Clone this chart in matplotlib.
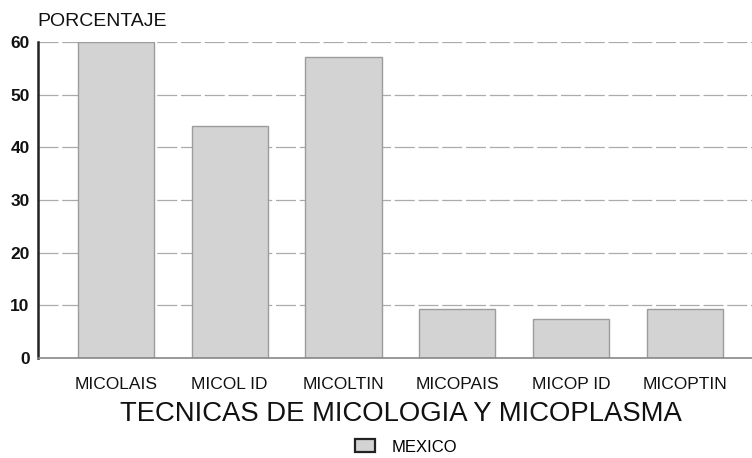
"""Tecnicas de micologia y micoplasma - Mexico"""
import matplotlib
matplotlib.use('Agg')
import matplotlib.pyplot as plt
import matplotlib.patches as mpatches

plt.rcParams['font.family'] = ['Liberation Sans Narrow', 'Liberation Sans', 'DejaVu Sans']

categories = ['MICOLAIS', 'MICOL ID', 'MICOLTIN', 'MICOPAIS', 'MICOP ID', 'MICOPTIN']
mexico = [60, 44, 57.2, 9.3, 7.4, 9.3]
yticks = [0, 10, 20, 30, 40, 50, 60]

fig = plt.figure(figsize=(7.52, 4.58), dpi=100, facecolor='white')
ax = fig.add_axes([0.0505, 0.2183, 0.9495, 0.69])

x = list(range(len(categories)))
ax.bar(x, mexico, width=0.67, color='#d3d3d3', edgecolor='#9c9c9c', linewidth=1.0, zorder=2)

ax.set_ylim(0, 60)
ax.set_xlim(-0.684, 5.59)
ax.set_yticks(yticks)
ax.set_yticklabels([str(v) for v in yticks], fontsize=12.5, fontweight='bold', color='#111')
ax.set_xticks(x)
ax.set_xticklabels(categories, fontsize=12.5, color='#111')
ax.tick_params(axis='y', length=0, pad=6)
ax.tick_params(axis='x', length=0, pad=14)

ax.yaxis.grid(True, color='#ababab', linewidth=0.9, linestyle=(0, (16, 3)), zorder=1)
for s in ['top', 'right']:
    ax.spines[s].set_visible(False)
ax.spines['left'].set_color('#222')
ax.spines['left'].set_linewidth(1.8)
ax.spines['bottom'].set_color('#888')
ax.spines['bottom'].set_linewidth(1.2)

ax.set_xlabel('TECNICAS DE MICOLOGIA Y MICOPLASMA', fontsize=19.8, color='#111')
ax.xaxis.set_label_coords(0.508, -0.135)
fig.text(0.05, 0.952, 'PORCENTAJE', fontsize=14, color='#111', ha='left', va='center')

handle = mpatches.Patch(facecolor='#d3d3d3', edgecolor='#222', linewidth=1.6, label='MEXICO')
fig.legend(handles=[handle], loc='center', bbox_to_anchor=(0.54, 0.024), frameon=False,
           fontsize=12, handlelength=1.2, handleheight=0.8, handletextpad=1.0)

fig.savefig('out.png', dpi=100, facecolor='white')
